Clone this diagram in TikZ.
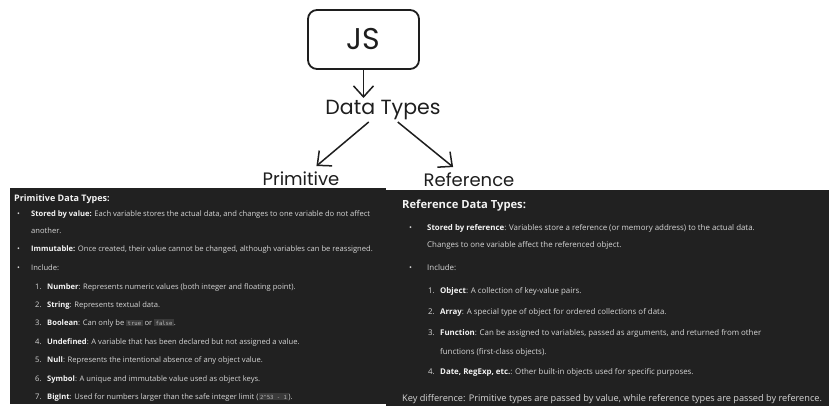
\documentclass[tikz,border=0pt]{standalone}
\usepackage{fontspec}
\setmainfont{Open Sans}
\setmonofont{DejaVu Sans Mono}
\newfontfamily\sketchfont{Poppins}
\usetikzlibrary{arrows.meta}

\definecolor{ink}{HTML}{1E1E1E}
\definecolor{panel}{HTML}{212121}
\definecolor{bodytxt}{HTML}{D6D6D6}
\definecolor{strongtxt}{HTML}{F4F4F4}
\definecolor{codebg}{HTML}{3A3A3A}
\definecolor{codetxt}{HTML}{B5B5B5}

\newcommand{\kw}[1]{{\bfseries\color{strongtxt}#1}}
\newcommand{\jscode}[1]{{\setlength{\fboxsep}{1.4pt}\colorbox{codebg}{\color{codetxt}\ttfamily\fontsize{5.6}{6}\selectfont #1}}}
\newcommand{\lbul}{\makebox[14pt][l]{\textbullet}}
\newcommand{\rbul}{\makebox[18pt][l]{\textbullet}}
\newcommand{\lnum}[1]{\makebox[12pt][l]{#1.}}

\tikzset{
  sketch/.style={text=ink,inner sep=2pt},
  lline/.style={anchor=base west,inner sep=0pt,text=bodytxt,font=\fontsize{7.6}{9}\selectfont},
  rline/.style={lline,font=\fontsize{7.9}{9}\selectfont},
}

\begin{document}
\begin{tikzpicture}[x=1pt,y=-1pt,>={Straight Barb[length=11pt,width=20pt]}]
\useasboundingbox (0,0) rectangle (839,416);
\fill[white] (0,0) rectangle (839,416);

% the sketch on top
\node[sketch,draw=ink,line width=1.8pt,rounded corners=9pt,minimum width=111pt,minimum height=59pt,font=\sketchfont\fontsize{30}{30}\selectfont] (js) at (363.5,39.5) {JS};
\node[sketch,font=\sketchfont\fontsize{20.5}{20}\selectfont] (dt) at (383,110) {Data Types};
\node[sketch,font=\sketchfont\fontsize{18}{18}\selectfont] (prim) at (301,179) {Primitive};
\node[sketch,font=\sketchfont\fontsize{18}{18}\selectfont] (ref) at (469,180) {Reference};
\draw[->,ink,line width=1.5pt] (js.south) -- (js.south |- dt.north);
\draw[->,ink,line width=1.5pt,shorten >=6pt] (dt) -- (prim);
\draw[->,ink,line width=1.5pt,shorten >=6pt] (dt) -- (ref);

% primitive panel
\fill[panel] (10,188) rectangle (386,404);
\node[lline,font=\bfseries\fontsize{9}{10}\selectfont,text=strongtxt] (lhead) at (14,201) {Primitive Data Types:};
\node[lline] (lb1) at (17,216) {\lbul\kw{Stored by value:} Each variable stores the actual data, and changes to one variable do not affect};
\node[lline] (lb1x) at (31,233) {another.};
\node[lline] (lb2) at (17,251) {\lbul\kw{Immutable:} Once created, their value cannot be changed, although variables can be reassigned.};
\node[lline] (lb3) at (17,270) {\lbul Include:};
\node[lline] (ln1) at (35,289) {\lnum{1}\kw{Number}: Represents numeric values (both integer and floating point).};
\node[lline] (ln2) at (35,307) {\lnum{2}\kw{String}: Represents textual data.};
\node[lline] (ln3) at (35,325) {\lnum{3}\kw{Boolean}: Can only be \jscode{true} or \jscode{false}.};
\node[lline] (ln4) at (35,344) {\lnum{4}\kw{Undefined}: A variable that has been declared but not assigned a value.};
\node[lline] (ln5) at (35,362) {\lnum{5}\kw{Null}: Represents the intentional absence of any object value.};
\node[lline] (ln6) at (35,381) {\lnum{6}\kw{Symbol}: A unique and immutable value used as object keys.};
\node[lline] (ln7) at (35,399) {\lnum{7}\kw{BigInt}: Used for numbers larger than the safe integer limit (\jscode{2\textasciicircum 53 - 1}).};

% reference panel
\fill[panel] (386,190) rectangle (829,406);
\node[rline,font=\bfseries\fontsize{11.2}{12}\selectfont,text=strongtxt] (rhead) at (402,208) {Reference Data Types:};
\node[rline] (rb1) at (409,230) {\rbul\kw{Stored by reference}: Variables store a reference (or memory address) to the actual data.};
\node[rline] (rb1x) at (427,247) {Changes to one variable affect the referenced object.};
\node[rline] (rb2) at (409,270) {\rbul Include:};
\node[rline] (rn1) at (428,293) {\lnum{1}\kw{Object}: A collection of key-value pairs.};
\node[rline] (rn2) at (428,314) {\lnum{2}\kw{Array}: A special type of object for ordered collections of data.};
\node[rline] (rn3) at (428,335) {\lnum{3}\kw{Function}: Can be assigned to variables, passed as arguments, and returned from other};
\node[rline] (rn3x) at (440,354) {functions (first-class objects).};
\node[rline] (rn4) at (428,374) {\lnum{4}\kw{Date, RegExp, etc.}: Other built-in objects used for specific purposes.};
\node[rline,font=\fontsize{9.2}{10}\selectfont] (key) at (402,401) {Key difference: Primitive types are passed by value, while reference types are passed by reference.};
\end{tikzpicture}
\end{document}
